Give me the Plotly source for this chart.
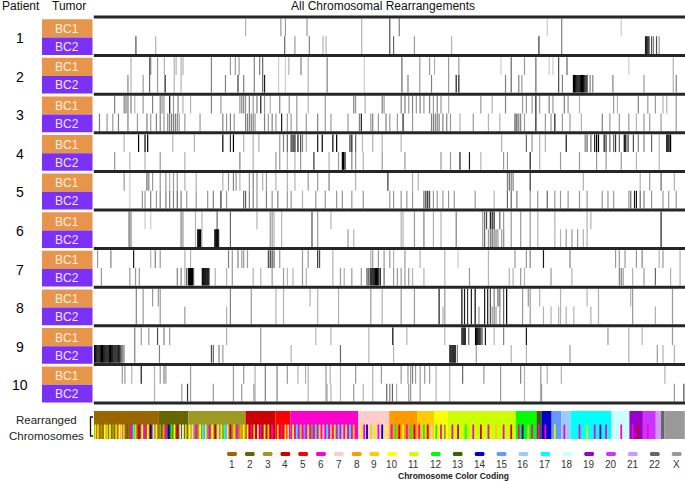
import plotly.graph_objects as go
from collections import defaultdict

# ---------------- data ----------------
patients = ["1", "2", "3", "4", "5", "6", "7", "8", "9", "10"]
tumors = ["BC1", "BC2"]
GENOME_MAX = 3116  # genome position units

chrom_labels = ["1", "2", "3", "4", "5", "6", "7", "8", "9", "10", "11", "12",
                "13", "14", "15", "16", "17", "18", "19", "20", "21", "22", "X"]
chrom_colors = ["#9a6600", "#666600", "#9c9a22", "#cc0000", "#ff0000", "#ff00cc",
                "#ffcccc", "#ff9900", "#ffcc00", "#ffff00", "#ccff00", "#00ff00",
                "#336600", "#0000cc", "#6699ff", "#99ccff", "#00ffff", "#ccffff",
                "#9900cc", "#cc33ff", "#cc99ff", "#666666", "#999999"]
# share of all rearrangements per chromosome (genome units)
chrom_bar_widths = [343, 155, 302, 158, 79, 356, 164, 147, 89, 73, 358, 109,
                    26, 54, 50, 51, 214, 95, 71, 68, 27, 19, 107]
# partner chromosome stripes in the lower half of the bar
partner_pos = [8, 22, 40, 58, 70, 85, 102, 118, 135, 145, 158, 175, 197, 210, 220, 238, 255, 272,
               285, 300, 315, 330, 350, 368, 380, 395, 410, 425, 440, 455, 470, 485, 505, 520,
               540, 560, 575, 590, 610, 625, 640, 655, 672, 690, 705, 720, 740, 755, 775, 790,
               810, 830, 845, 865, 880, 900, 920, 940, 970, 990, 1010, 1025, 1050, 1070, 1090,
               1110, 1130, 1150, 1170, 1190, 1210, 1230, 1250, 1270, 1290, 1310, 1330, 1350,
               1370, 1405, 1425, 1440, 1460, 1480, 1500, 1520, 1540, 1570, 1590, 1610, 1630,
               1650, 1670, 1690, 1715, 1740, 1760, 1780, 1805, 1830, 1850, 1890, 1920, 1960,
               2000, 2040, 2080, 2120, 2160, 2200, 2240, 2260, 2290, 2310, 2345, 2380, 2430,
               2480, 2560, 2600, 2640, 2670, 2700, 2780, 2840, 2870, 2920]
partner_chr = ["11", "9", "3", "10", "9", "11", "3", "9", "10", "7", "9", "2", "6", "17", "9", "4", "7", "6",
               "10", "14", "7", "10", "3", "8", "6", "14", "12", "10", "4", "7", "18", "9", "10", "7",
               "6", "10", "17", "7", "6", "10", "4", "7", "11", "17", "7", "4", "9", "6", "8", "10",
               "10", "6", "9", "7", "6", "10", "9", "6", "9", "6", "10", "7", "10", "17", "9",
               "15", "11", "3", "17", "10", "7", "17", "9", "11", "17", "7", "10", "17",
               "9", "10", "6", "14", "9", "11", "6", "14", "10", "6", "12", "4", "11",
               "6", "12", "4", "6", "12", "4", "7", "12", "6", "3", "6", "4", "12",
               "6", "4", "6", "9", "6", "4", "6", "14", "11", "6", "6", "6", "11",
               "6", "6", "11", "6", "14", "6", "6", "6", "4", "6"]

# rearrangement positions (genome units, darkness 0-1): shared by both tumours, BC1 only, BC2 only
p1_shared = [(1412, .3), (1560, .7), (2466, .5)]
p1_bc1 = [(800, .3), (986, .4), (1010, .4), (1124, .4), (1610, .5), (2390, .2), (2780, .2)]
p1_bc2 = [(222, .7), (326, .3), (1006, .6), (1060, .4), (1136, .5), (1208, .3), (1224, .3), (1580, .6),
          (1690, .4), (1886, .3), (2346, .8), (2908, .9), (2914, .9), (2920, .9), (2926, .9), (2940, .7),
          (2950, .5), (2966, .7), (2980, .4)]

p2_shared = [(196, .3), (294, .6), (336, .4), (424, .3), (460, .3), (620, .5), (846, .5), (890, .6),
             (974, .2), (1010, .2), (1130, .3), (1230, .5), (1426, .2), (1624, .6), (1718, .4), (1870, .4),
             (2200, .6), (2330, .6), (2450, .7), (3054, .3)]
p2_bc1 = [(300, .5), (372, .3), (434, .3), (470, .3), (720, .4), (746, .4), (766, .4), (874, .5), (1028, .3),
          (1092, .5), (1770, .4), (1796, .3), (1924, .4), (2146, .2), (2270, .4), (2400, .2), (2420, .2),
          (2494, .6), (2820, .2)]
p2_bc2 = [(180, .5), (260, .4), (376, .9), (694, .5), (760, .8), (790, .5), (900, .9), (1656, .5), (1780, .5),
          (1910, .9), (1924, .9), (2170, .5), (2240, .5), (2256, .4), (2470, .5), (2528, 1), (2534, 1),
          (2540, 1), (2546, 1), (2552, 1), (2558, 1), (2564, 1), (2570, 1), (2576, 1), (2582, 1), (2588, .9),
          (2594, .9), (2600, .8), (2616, .5), (2630, .5), (2736, .5), (2900, .4), (3070, .5)]

p3_shared = [(350, .5), (370, .4), (1070, .4), (1220, .4), (2330, .9), (3070, .4)]
p3_bc1 = [(110, .5), (160, .5), (170, .5), (180, .5), (196, .5), (216, .3), (260, .4), (310, .5), (360, .4),
          (400, .9), (420, .4), (444, .5), (470, .3), (510, .3), (620, .5), (670, .4), (770, .4), (780, .5),
          (790, .5), (800, .4), (820, .5), (840, .4), (860, .5), (880, .9), (900, .4), (930, .3), (980, .5),
          (1030, .4), (1130, .3), (1370, .5), (1380, .4), (1430, .3), (1520, .5), (1530, .4), (1620, .5),
          (1640, .5), (1660, .4), (1680, .5), (1700, .4), (1720, .5), (1740, .4), (1770, .5), (1790, .4),
          (1810, .5), (1830, .4), (1870, .3), (2040, .4), (2100, .3), (2170, .5), (2260, .4), (2280, .4),
          (2310, .4), (2350, .4), (2400, .5), (2420, .4), (2480, .5), (2500, .4), (2560, .3), (2740, .4),
          (2760, .3), (2870, .5), (2920, .4), (2960, .4), (3000, .3), (3020, .3)]
p3_bc2 = [(30, .5), (70, .4), (100, .4), (130, .5), (180, .5), (230, .4), (280, .5), (300, .4), (330, .5),
          (390, .5), (400, .5), (410, .5), (420, .5), (430, .5), (440, .5), (450, .4), (480, .4), (560, .4),
          (680, .5), (700, .4), (720, .5), (740, .4), (800, .5), (810, .5), (820, .5), (830, .5), (840, .5),
          (850, .4), (900, .5), (920, .4), (940, .5), (960, .4), (990, .9), (1020, .4), (1040, .4), (1120, .4),
          (1180, .5), (1250, .4), (1340, .4), (1400, .5), (1410, .9), (1460, .4), (1470, .5), (1500, .4),
          (1540, .5), (1560, .4), (1600, .4), (1630, .9), (1680, .4), (1780, .5), (1790, .5), (1800, .5),
          (1810, .5), (1820, .5), (1840, .5), (1860, .5), (1880, .4), (1930, .3), (2000, .4), (2080, .3),
          (2140, .3), (2220, .7), (2230, .7), (2240, .5), (2250, .5), (2270, .4), (2380, .4), (2410, .4),
          (2430, .9), (2470, .4), (2510, .4), (2570, .3), (2680, .5), (2720, .4), (2770, .4), (2820, .4),
          (2860, .3), (2900, .4), (2930, .4), (2990, .4)]

p4_shared = [(840, .3), (2350, .3), (2980, .3)]
p4_bc1 = [(160, .3), (236, 1), (270, 1), (284, 1), (416, .3), (530, .3), (680, 1), (720, .8), (736, 1),
          (790, .3), (870, .3), (980, .4), (1000, .5), (1020, .6), (1040, .8), (1050, 1), (1060, .9),
          (1076, .9), (1090, .7), (1100, .5), (1120, .3), (1180, .9), (1204, 1), (1260, 1), (1280, 1),
          (1350, .8), (1360, .9), (1380, .6), (1416, .3), (1470, .3), (1520, .3), (1620, .3), (2150, .3),
          (2280, .6), (2310, .4), (2380, .3), (2490, .9), (2590, .5), (2600, .6), (2620, .6), (2640, .9),
          (2650, 1), (2660, 1), (2690, .9), (2700, .8), (2720, .6), (2740, .6), (2750, .8), (2770, .6),
          (2796, 1), (2804, 1), (2816, .8), (2844, .7), (2870, .5), (2900, .5), (2940, .6), (3020, 1),
          (3026, 1), (3032, 1), (3040, 1)]
p4_bc2 = [(110, .4), (190, .3), (270, .3), (350, .4), (480, .3), (770, .5), (960, .4), (980, .4), (1020, .3),
          (1060, .3), (1090, .4), (1160, .8), (1240, .3), (1290, .4), (1310, 1), (1316, 1), (1324, 1),
          (1360, .5), (1380, .4), (1420, .3), (1520, .4), (1640, .4), (1830, .4), (1880, .4), (1930, .9),
          (1980, .9), (2040, .3), (2160, .4), (2180, .4), (2300, .9), (2460, .4), (2560, .4), (2650, .4),
          (2700, .4), (2780, .4), (2860, .3)]

p5_shared = [(190, .2)]
p5_bc1 = [(160, .4), (280, .6), (290, .5), (310, .4), (350, .4), (380, .4), (400, .3), (420, .4), (440, .4),
          (480, .3), (540, .3), (680, .3), (710, .4), (736, .5), (750, .4), (770, .3), (820, .4), (840, .5),
          (860, .4), (890, .3), (910, .4), (960, .3), (1020, .3), (1060, .3), (1130, .4), (1180, .4),
          (1240, .5), (1380, .3), (1550, .8), (1680, .3), (1710, .3), (2180, .5), (2190, .6), (2200, .5),
          (2210, .5), (2300, .8), (2580, .3), (2880, .3), (2930, .4), (2990, .6), (3060, .3)]
p5_bc2 = [(256, .4), (270, .4), (300, .5), (330, .4), (350, .5), (380, .5), (400, .5), (420, .5), (440, .6),
          (460, .5), (490, .4), (540, .4), (600, .4), (630, .5), (670, .8), (700, .4), (790, .6), (800, .6),
          (820, .5), (840, .5), (860, .4), (910, .5), (940, .4), (970, .5), (1020, .4), (1040, .4), (1100, .3),
          (1170, .4), (1220, .4), (1280, .4), (1310, .4), (1360, .4), (1420, .4), (1560, .4), (1580, .4),
          (1620, .4), (1650, .4), (1680, .4), (1740, .6), (1750, .8), (1760, .9), (1770, .7), (1790, .4),
          (1810, .4), (1840, .4), (1870, .4), (1900, .4), (2010, .4), (2110, .3), (2180, .6), (2200, .6),
          (2230, .5), (2300, .4), (2340, .4), (2390, .6), (2430, .4), (2460, .4), (2500, .4), (2560, .4),
          (2600, .4), (2680, .4), (2710, .4), (2740, .4), (2820, .4), (2830, .6), (2850, .9), (2860, .9),
          (2880, .6), (2900, .5), (2940, .4), (3000, .4), (3030, .4), (3070, .4)]

p6_shared = [(186, .6), (196, .5), (460, .5), (470, .4), (536, .3), (570, .3), (650, .6), (720, .6), (930, .4),
             (940, .4), (950, .3), (990, .3), (1150, .7), (1180, .4), (1620, .3), (1630, .3), (1690, .4),
             (1740, .5), (1790, .3), (1830, .3), (1910, .5), (2050, .4), (2060, .6), (2100, .4), (2160, .4),
             (2200, .4), (2250, .4), (2300, .4), (2340, .3), (2430, .3), (2600, .3), (2990, .9)]
p6_bc1 = [(270, .2), (300, .2), (860, .3), (1250, .3), (2070, .7), (2090, .9), (2100, .8), (2110, .9),
          (2140, .6), (2620, .3)]
p6_bc2 = [(548, 1), (553, 1), (558, 1), (563, 1), (638, 1), (643, 1), (648, 1), (653, 1), (658, .8),
          (1340, .4), (1370, .3), (2080, .4), (2090, .5), (2100, .5), (2110, .5), (2120, .5), (2130, .4),
          (2150, .4), (2160, .3), (2460, .3), (2490, .4), (2520, .4), (2550, .4), (2580, .3)]

p7_shared = [(480, .3), (730, .4), (1260, .3), (1850, .3), (3090, .3)]
p7_bc1 = [(20, .4), (90, .5), (210, .9), (300, .3), (324, .5), (350, .4), (510, .3), (710, .5), (760, .5),
          (780, .4), (790, .4), (810, .4), (920, .7), (930, .8), (940, .7), (950, .6), (980, .4), (1100, .4),
          (1130, .4), (1180, .8), (1190, .7), (1460, .3), (1470, .4), (1500, .4), (1530, .4), (1560, .4),
          (1580, .3), (1640, .4), (1720, .3), (1920, .2), (2080, .3), (2220, .4), (2280, .4), (2300, .5),
          (2370, .9), (2510, .5), (2750, .4), (2770, .4), (2800, .4), (2860, .4), (2890, .5), (2980, .3),
          (3000, .4)]
p7_bc2 = [(40, .4), (190, .4), (220, .4), (240, .4), (440, .5), (460, .5), (490, .7), (500, 1), (505, 1),
          (510, 1), (515, 1), (520, 1), (526, .6), (572, 1), (577, 1), (582, 1), (587, 1), (592, 1),
          (597, 1), (602, 1), (607, .9), (640, .3), (700, .3), (840, .3), (880, .3), (940, .4), (1000, .4),
          (1020, .3), (1050, .3), (1100, .4), (1120, .3), (1300, .4), (1320, .3), (1360, .4), (1410, .4),
          (1440, .7), (1450, .8), (1460, 1), (1466, 1), (1472, 1), (1478, 1), (1484, 1), (1490, 1),
          (1496, 1), (1502, .9), (1510, .9), (1530, .6), (1580, .4), (1600, .4), (1620, .4), (1640, .4),
          (1660, .4), (1680, .3), (1740, .3), (1980, .4), (2080, .3), (2190, .3), (2210, .3), (2250, .4),
          (2270, .3), (2410, .4), (2520, .3), (2770, .5), (2780, .5), (2790, .4), (2840, .3), (2900, .4),
          (2960, .6), (3040, .3)]

p8_shared = [(224, .5), (260, .4), (350, .4), (720, .5), (830, .4), (960, .3), (1000, .3), (1180, .3),
             (1290, .3), (1460, .4), (1520, .3), (1620, .4), (1690, .4), (1820, .9), (1850, .4), (1940, 1),
             (1954, .9), (1970, .8), (1990, .9), (2010, 1), (2060, .9), (2076, .9), (2090, .7), (2110, .5),
             (2160, .6), (2176, 1), (2260, .4), (2300, .4), (2460, .3), (2660, .3), (2840, .4), (3050, .4)]
p8_bc1 = [(310, .4), (340, .4), (1140, .3), (2130, .6), (2140, .6), (2290, .4), (2350, .3), (2600, .3),
          (2830, .3)]
p8_bc2 = [(480, .4), (700, .3), (1840, .3), (2030, .4), (2100, .4), (2120, .4), (2140, .4), (2370, .3),
          (2410, .3), (2450, .3), (2490, .3), (2530, .3), (2620, .3), (2960, .3)]

p9_shared = [(216, .5), (880, .4), (1450, .3), (2820, .3)]
p9_bc1 = [(250, .4), (290, .4), (336, .7), (370, .5), (400, .4), (700, .3), (1170, .3), (1250, .3),
          (1576, 1), (1650, .3), (1850, .3), (1940, .9), (1946, 1), (1952, 1), (1958, .9), (1976, .6),
          (2012, 1), (2018, 1), (2024, 1), (2030, 1), (2036, 1), (2046, .8), (2064, .9), (2110, .3),
          (2160, .5), (2280, .9), (2710, .4), (2890, .3), (3050, .4)]
p9_bc2 = [(4, 1), (10, 1), (16, 1), (22, 1), (28, 1), (34, 1), (40, 1), (46, 1), (52, .9), (58, 1), (64, 1),
          (70, 1), (76, .9), (82, 1), (88, 1), (94, .9), (100, 1), (106, .9), (112, 1), (118, .9), (124, .8),
          (130, .9), (136, .8), (142, .7), (148, .6), (154, .5), (160, .4), (346, .5), (620, .7), (630, .6),
          (660, .5), (680, .4), (1040, .3), (1300, .6), (1580, .3), (1876, .8), (1882, 1), (1888, 1),
          (1894, 1), (1900, .9), (1906, .8), (1916, .5), (2016, .4), (2200, .3), (2280, .3), (2510, .4),
          (2970, .4), (3000, .3), (3060, .3)]

p10_shared = [(320, .3), (510, .4), (736, .4), (850, .3), (904, .5), (966, .5), (1130, .3), (1224, .4),
              (1300, .3), (1470, .3), (1670, .4), (1720, .4), (1804, .3), (1876, .3), (2144, .4),
              (2270, .3), (2356, .4)]
p10_bc1 = [(150, .4), (164, .4), (200, .3), (250, .9), (350, .4), (370, .5), (380, .4), (790, .4), (1020, .4),
           (1076, .3), (1116, .3), (1246, .3), (1380, .4), (1516, .4), (1620, .4), (1656, .4), (1680, .5),
           (1696, .4), (1744, .4), (1770, .4), (1944, .6), (2056, .4), (2250, .5), (2390, .3), (2464, .3),
           (3010, .3)]
p10_bc2 = [(464, .4), (494, .8), (630, .4), (780, .4), (844, .4), (1230, .3), (1250, .3), (1370, .4),
           (1420, .3), (1544, .6), (1560, .5), (1574, .6), (1596, .3), (1660, .4), (2360, .4), (3060, .4),
           (3110, .7)]

rows = [(p1_shared, p1_bc1, p1_bc2), (p2_shared, p2_bc1, p2_bc2), (p3_shared, p3_bc1, p3_bc2),
        (p4_shared, p4_bc1, p4_bc2), (p5_shared, p5_bc1, p5_bc2), (p6_shared, p6_bc1, p6_bc2),
        (p7_shared, p7_bc1, p7_bc2), (p8_shared, p8_bc1, p8_bc2), (p9_shared, p9_bc1, p9_bc2),
        (p10_shared, p10_bc1, p10_bc2)]

# ---------------- layout constants ----------------
W, H = 685, 481
PLOT_X0 = 93.8          # left pixel of genome axis
ROW0, PITCH, HALF = 17.0, 38.6, 19.3
FONT = "Liberation Sans, Arial, Helvetica, sans-serif"
BC_COLORS = ["#e8954c", "#7a30f5"]
BC_TEXT = ["#fff1e0", "#efe6ff"]

fig = go.Figure()
# dummy trace to bind pixel axes
fig.add_trace(go.Scatter(x=[None], y=[None], xaxis="x", yaxis="y", showlegend=False))

# rearrangement lines grouped by shade
segs = defaultdict(lambda: ([], []))
for k, (sh, b1, b2) in enumerate(rows):
    top = ROW0 + PITCH * k
    spans = [(sh, top + 1.6, top + PITCH - 1.6), (b1, top + 1.6, top + HALF), (b2, top + HALF, top + PITCH - 1.6)]
    for lst, y0, y1 in spans:
        for pos, d in lst:
            xs, ys = segs[d]
            xs += [pos, pos, None]
            ys += [y0, y1, None]
for d in sorted(segs):
    xs, ys = segs[d]
    g = int(round(255 * (1 - d)))
    fig.add_trace(go.Scatter(x=xs, y=ys, mode="lines", xaxis="x2", yaxis="y",
                             line=dict(color=f"rgb({g},{g},{g})", width=1.2),
                             hoverinfo="skip", showlegend=False))

# chromosome bar (top solid band + lower band base)
starts = []
acc = 0
for w in chrom_bar_widths:
    starts.append(acc)
    acc += w
fig.add_trace(go.Bar(orientation="h", y=[417.5] * len(chrom_bar_widths), x=chrom_bar_widths, base=starts,
                     width=13, marker=dict(color=chrom_colors, line=dict(width=0)),
                     xaxis="x2", yaxis="y", hoverinfo="skip", showlegend=False))
fig.add_trace(go.Bar(orientation="h", y=[431.5] * len(chrom_bar_widths), x=chrom_bar_widths, base=starts,
                     width=15, marker=dict(color=chrom_colors, line=dict(width=0)),
                     xaxis="x2", yaxis="y", hoverinfo="skip", showlegend=False))
# partner stripes
stripes = defaultdict(lambda: ([], []))
for pos, c in zip(partner_pos, partner_chr):
    xs, ys = stripes[c]
    xs += [pos, pos, None]
    ys += [424.5, 439, None]
for c, (xs, ys) in stripes.items():
    fig.add_trace(go.Scatter(x=xs, y=ys, mode="lines", xaxis="x2", yaxis="y",
                             line=dict(color=chrom_colors[chrom_labels.index(c)], width=1.8),
                             hoverinfo="skip", showlegend=False))

shapes = []
annotations = []

def txt(x, y, s, size=12, color="#111", bold=False, xanchor="center"):
    annotations.append(dict(x=x, y=y, xref="x", yref="y", text=f"<b>{s}</b>" if bold else s,
                            showarrow=False, xanchor=xanchor, yanchor="middle",
                            font=dict(family=FONT, size=size, color=color)))

# separators
for k in range(len(patients) + 1):
    y = ROW0 + PITCH * k
    shapes.append(dict(type="line", xref="x", yref="y", x0=PLOT_X0, x1=W, y0=y, y1=y,
                       line=dict(color="#262626", width=3), layer="above"))

# patient labels + tumour boxes
for k, p in enumerate(patients):
    top = ROW0 + PITCH * k
    txt(20, top + 21, p, size=14, color="#000")
    boxes = [(top + 2.2, top + 20.4), (top + 20.4, top + 38.0)]
    for j, (y0, y1) in enumerate(boxes):
        shapes.append(dict(type="rect", xref="x", yref="y", x0=42, x1=92.5, y0=y0, y1=y1,
                           fillcolor=BC_COLORS[j], line=dict(width=0), layer="below"))
        txt(67, (y0 + y1) / 2 + 0.5, tumors[j], size=12, color=BC_TEXT[j])

# headers
txt(21, 6, "Patient", size=12, color="#111")
txt(69, 6, "Tumor", size=12, color="#111")
txt(383, 6, "All Chromosomal Rearrangements", size=12, color="#111")

# bar label
txt(46, 420, "Rearranged", size=11.5, color="#222")
txt(46, 436, "Chromosomes", size=11.5, color="#222")
shapes.append(dict(type="path", xref="x", yref="y", path="M 93,417 L 90.5,417 L 90.5,436 L 93,436",
                   line=dict(color="#111", width=1.3)))

# legend
for i, (lab, col) in enumerate(zip(chrom_labels, chrom_colors)):
    cx = 232 + 17.8 * i if i <= 9 else 392 + 21.9 * (i - 9)
    shapes.append(dict(type="path", xref="x", yref="y",
                       path=f"M {cx-4},{452} L {cx+4},{452} Q {cx+6},{454} {cx+4},{456} L {cx-4},{456} Q {cx-6},{454} {cx-4},{452} Z",
                       fillcolor=col, line=dict(width=0)))
    txt(cx, 464, lab, size=10, color="#333")
txt(453, 476, "Chromosome Color Coding", size=8.5, color="#222", bold=True)

fig.update_layout(
    width=W, height=H, margin=dict(l=0, r=0, t=0, b=0),
    paper_bgcolor="white", plot_bgcolor="white",
    barmode="overlay", showlegend=False, hovermode=False,
    xaxis=dict(range=[0, W], domain=[0, 1], visible=False, fixedrange=True),
    xaxis2=dict(range=[0, GENOME_MAX], domain=[PLOT_X0 / W, 1], anchor="y", visible=False, fixedrange=True),
    yaxis=dict(range=[H, 0], domain=[0, 1], visible=False, fixedrange=True),
    shapes=shapes, annotations=annotations,
)

fig.write_html("out.html", config={"displayModeBar": False},
               post_script="document.body.style.margin='0';document.body.style.overflow='hidden';")
